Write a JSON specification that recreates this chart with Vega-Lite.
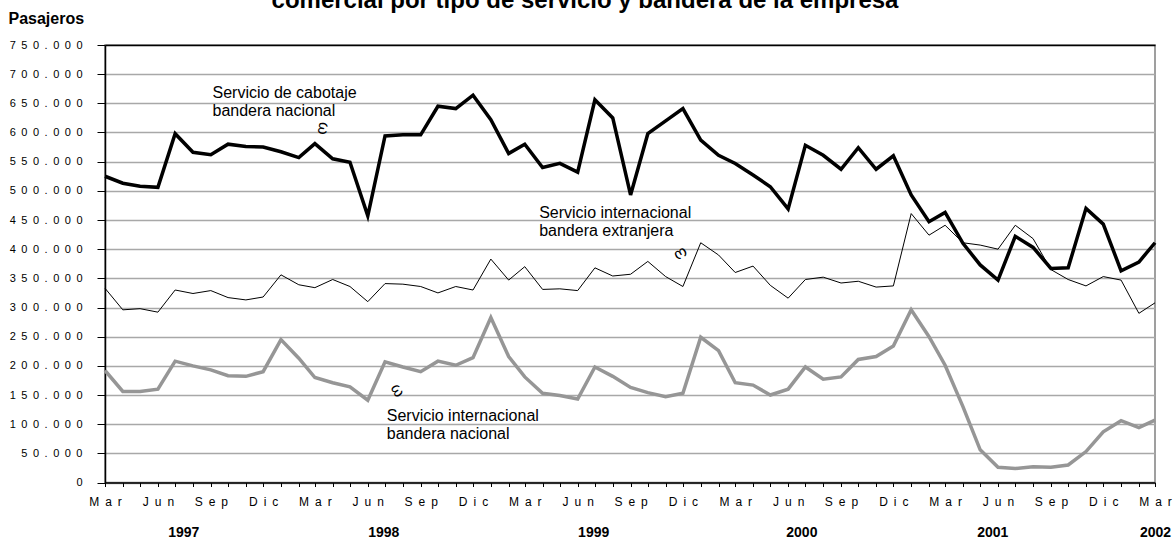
{
  "$schema": "https://vega.github.io/schema/vega-lite/v6.json",
  "width": 1050,
  "height": 437.5,
  "autosize": {"type": "none"},
  "padding": {"left": 105, "top": 45, "right": 19, "bottom": 58.5},
  "background": "white",
  "title": {
    "text": "comercial por tipo de servicio y bandera de la empresa",
    "fontSize": 24,
    "fontWeight": "bold",
    "font": "Liberation Sans",
    "color": "black",
    "anchor": "middle",
    "dx": -45,
    "dy": 22,
    "baseline": "alphabetic",
    "offset": 0
  },
  "config": {
    "font": "Liberation Sans",
    "view": {"stroke": "#808080", "strokeWidth": 1.5},
    "axis": {"labelFont": "Liberation Sans", "titleFont": "Liberation Sans", "labelColor": "black", "titleColor": "black"},
    "axisY": {"tickCount": 15, "labelOverlap": false, "labelFlush": false}
  },
  "resolve": {"axis": {"x": "independent"}},
  "layer": [
    {
      "data": {"values": [
        {"date": "1997-03-01", "cab": 525000, "ext": 333000, "nac": 192000},
        {"date": "1997-04-01", "cab": 513000, "ext": 296000, "nac": 156000},
        {"date": "1997-05-01", "cab": 508000, "ext": 298000, "nac": 156000},
        {"date": "1997-06-01", "cab": 506000, "ext": 292000, "nac": 160000},
        {"date": "1997-07-01", "cab": 598000, "ext": 330000, "nac": 208000},
        {"date": "1997-08-01", "cab": 566000, "ext": 324000, "nac": 200000},
        {"date": "1997-09-01", "cab": 562000, "ext": 329000, "nac": 193000},
        {"date": "1997-10-01", "cab": 580000, "ext": 317000, "nac": 183000},
        {"date": "1997-11-01", "cab": 576000, "ext": 313000, "nac": 182000},
        {"date": "1997-12-01", "cab": 575000, "ext": 318000, "nac": 190000},
        {"date": "1998-01-01", "cab": 567000, "ext": 356000, "nac": 245000},
        {"date": "1998-02-01", "cab": 557000, "ext": 339000, "nac": 213000},
        {"date": "1998-03-01", "cab": 581000, "ext": 334000, "nac": 180000},
        {"date": "1998-04-01", "cab": 555000, "ext": 348000, "nac": 171000},
        {"date": "1998-05-01", "cab": 549000, "ext": 336000, "nac": 164000},
        {"date": "1998-06-01", "cab": 457000, "ext": 310000, "nac": 141000},
        {"date": "1998-07-01", "cab": 594000, "ext": 341000, "nac": 207000},
        {"date": "1998-08-01", "cab": 596000, "ext": 340000, "nac": 198000},
        {"date": "1998-09-01", "cab": 596000, "ext": 336000, "nac": 190000},
        {"date": "1998-10-01", "cab": 645000, "ext": 325000, "nac": 208000},
        {"date": "1998-11-01", "cab": 641000, "ext": 336000, "nac": 201000},
        {"date": "1998-12-01", "cab": 664000, "ext": 330000, "nac": 214000},
        {"date": "1999-01-01", "cab": 622000, "ext": 383000, "nac": 283000},
        {"date": "1999-02-01", "cab": 564000, "ext": 347000, "nac": 216000},
        {"date": "1999-03-01", "cab": 580000, "ext": 370000, "nac": 181000},
        {"date": "1999-04-01", "cab": 540000, "ext": 331000, "nac": 153000},
        {"date": "1999-05-01", "cab": 547000, "ext": 332000, "nac": 149000},
        {"date": "1999-06-01", "cab": 532000, "ext": 329000, "nac": 143000},
        {"date": "1999-07-01", "cab": 656000, "ext": 368000, "nac": 198000},
        {"date": "1999-08-01", "cab": 625000, "ext": 354000, "nac": 182000},
        {"date": "1999-09-01", "cab": 493000, "ext": 357000, "nac": 163000},
        {"date": "1999-10-01", "cab": 598000, "ext": 379000, "nac": 154000},
        {"date": "1999-11-01", "cab": 620000, "ext": 353000, "nac": 147000},
        {"date": "1999-12-01", "cab": 641000, "ext": 336000, "nac": 153000},
        {"date": "2000-01-01", "cab": 587000, "ext": 411000, "nac": 249000},
        {"date": "2000-02-01", "cab": 561000, "ext": 390000, "nac": 226000},
        {"date": "2000-03-01", "cab": 547000, "ext": 360000, "nac": 171000},
        {"date": "2000-04-01", "cab": 527000, "ext": 371000, "nac": 167000},
        {"date": "2000-05-01", "cab": 507000, "ext": 338000, "nac": 150000},
        {"date": "2000-06-01", "cab": 469000, "ext": 316000, "nac": 160000},
        {"date": "2000-07-01", "cab": 578000, "ext": 348000, "nac": 198000},
        {"date": "2000-08-01", "cab": 561000, "ext": 352000, "nac": 177000},
        {"date": "2000-09-01", "cab": 537000, "ext": 342000, "nac": 181000},
        {"date": "2000-10-01", "cab": 574000, "ext": 345000, "nac": 211000},
        {"date": "2000-11-01", "cab": 537000, "ext": 335000, "nac": 216000},
        {"date": "2000-12-01", "cab": 560000, "ext": 337000, "nac": 234000},
        {"date": "2001-01-01", "cab": 493000, "ext": 461000, "nac": 296000},
        {"date": "2001-02-01", "cab": 447000, "ext": 424000, "nac": 250000},
        {"date": "2001-03-01", "cab": 463000, "ext": 441000, "nac": 201000},
        {"date": "2001-04-01", "cab": 410000, "ext": 411000, "nac": 130000},
        {"date": "2001-05-01", "cab": 373000, "ext": 407000, "nac": 56000},
        {"date": "2001-06-01", "cab": 347000, "ext": 400000, "nac": 26000},
        {"date": "2001-07-01", "cab": 422000, "ext": 441000, "nac": 24000},
        {"date": "2001-08-01", "cab": 403000, "ext": 418000, "nac": 27000},
        {"date": "2001-09-01", "cab": 367000, "ext": 365000, "nac": 26000},
        {"date": "2001-10-01", "cab": 368000, "ext": 348000, "nac": 30000},
        {"date": "2001-11-01", "cab": 470000, "ext": 337000, "nac": 53000},
        {"date": "2001-12-01", "cab": 443000, "ext": 353000, "nac": 87000},
        {"date": "2002-01-01", "cab": 363000, "ext": 347000, "nac": 106000},
        {"date": "2002-02-01", "cab": 378000, "ext": 290000, "nac": 94000},
        {"date": "2002-03-01", "cab": 411000, "ext": 308000, "nac": 107000}
      ]},
      "encoding": {
        "x": {
          "field": "date", "type": "temporal",
          "scale": {"type": "utc", "domain": [{"year": 1997, "month": 3, "date": 1, "utc": true}, {"year": 2002, "month": 3, "date": 1, "utc": true}]},
          "axis": {
            "orient": "bottom", "title": null, "grid": false,
            "domainColor": "black", "domainWidth": 1.5,
            "tickColor": "black", "tickSize": 4, "tickWidth": 1,
            "tickCount": {"interval": "month", "step": 1},
            "labelExpr": "utcmonth(datum.value) == 2 ? 'M\u2002a\u2002r' : utcmonth(datum.value) == 5 ? 'J\u2002u\u2002n' : utcmonth(datum.value) == 8 ? 'S\u2002e\u2002p' : utcmonth(datum.value) == 11 ? 'D\u2002i\u2002c' : ''",
            "labelOverlap": false, "labelFlush": false, "labelBound": false,
            "labelAngle": 0, "labelPadding": 9.5, "labelFontSize": 12
          }
        }
      },
      "layer": [
        {
          "mark": {"type": "line", "color": "#969696", "strokeWidth": 3.5},
          "encoding": {
            "y": {
              "field": "nac", "type": "quantitative", "title": "Pasajeros",
              "scale": {"domain": [0, 750000], "nice": false},
              "axis": {
                "tickCount": 15,
                "labelExpr": "join(split(replace(format(datum.value, ','), ',', '.'), ''), '\u2002')",
                "labelOverlap": false, "labelFlush": false,
                "labelFontSize": 11, "labelPadding": 15,
                "domainColor": "black", "domainWidth": 1.5,
                "tickColor": "black", "tickSize": 8, "tickWidth": 1,
                "grid": true,
                "gridColor": {"condition": {"test": "datum.value === 750000", "value": "black"}, "value": "#a8a8a8"},
                "gridWidth": 1.3,
                "titleAngle": 0, "titleAlign": "left", "titleBaseline": "alphabetic",
                "titleX": -97, "titleY": -22, "titleFontSize": 16, "titleFontWeight": "bold"
              }
            }
          }
        },
        {
          "mark": {"type": "line", "color": "black", "strokeWidth": 1},
          "encoding": {"y": {"field": "ext", "type": "quantitative", "title": "Pasajeros", "scale": {"domain": [0, 750000], "nice": false}}}
        },
        {
          "mark": {"type": "line", "color": "black", "strokeWidth": 3.5},
          "encoding": {"y": {"field": "cab", "type": "quantitative", "title": "Pasajeros", "scale": {"domain": [0, 750000], "nice": false}}}
        }
      ]
    },
    {
      "data": {"values": [
        {"kind": "note", "date": "1997-09-04", "v": 660000, "label": ["Servicio de cabotaje", "bandera nacional"]},
        {"kind": "note", "date": "1999-03-26", "v": 454000, "label": ["Servicio internacional", "bandera extranjera"]},
        {"kind": "note", "date": "1998-07-04", "v": 106000, "label": ["Servicio internacional", "bandera nacional"]},
        {"kind": "s1", "date": "1998-03-16", "v": 607000, "label": "ω"},
        {"kind": "s2", "date": "1999-11-28", "v": 391000, "label": "ω"},
        {"kind": "s3", "date": "1998-07-23", "v": 158000, "label": "ω"}
      ]},
      "encoding": {
        "x": {
          "field": "date", "type": "temporal",
          "scale": {"type": "utc", "domain": [{"year": 1997, "month": 3, "date": 1, "utc": true}, {"year": 2002, "month": 3, "date": 1, "utc": true}]},
          "axis": {
            "orient": "bottom", "title": null, "grid": false, "domain": false, "ticks": false,
            "values": [
              {"year": 1997, "month": 7, "date": 15, "utc": true},
              {"year": 1998, "month": 6, "date": 28, "utc": true},
              {"year": 1999, "month": 6, "date": 28, "utc": true},
              {"year": 2000, "month": 6, "date": 24, "utc": true},
              {"year": 2001, "month": 5, "date": 22, "utc": true},
              {"year": 2002, "month": 3, "date": 1, "utc": true}
            ],
            "labelExpr": "utcFormat(datum.value, '%Y')",
            "labelOverlap": false, "labelFlush": false, "labelBound": false,
            "labelAngle": 0, "labelPadding": 42.5, "labelFontSize": 14, "labelFontWeight": "bold"
          }
        },
        "y": {
          "field": "v", "type": "quantitative", "title": "Pasajeros",
          "scale": {"domain": [0, 750000], "nice": false},
          "axis": {
            "tickCount": 15,
            "labelExpr": "join(split(replace(format(datum.value, ','), ',', '.'), ''), '\u2002')",
            "labelOverlap": false, "labelFlush": false,
            "labelFontSize": 11, "labelPadding": 15,
            "domainColor": "black", "domainWidth": 1.5,
            "tickColor": "black", "tickSize": 8, "tickWidth": 1,
            "grid": true,
            "gridColor": {"condition": {"test": "datum.value === 750000", "value": "black"}, "value": "#a8a8a8"},
            "gridWidth": 1.3,
            "titleAngle": 0, "titleAlign": "left", "titleBaseline": "alphabetic",
            "titleX": -97, "titleY": -22, "titleFontSize": 16, "titleFontWeight": "bold"
          }
        },
        "text": {"field": "label"}
      },
      "layer": [
        {
          "transform": [{"filter": "datum.kind === 'note'"}],
          "mark": {"type": "text", "align": "left", "baseline": "alphabetic", "fontSize": 16, "lineHeight": 18.4, "color": "black"}
        },
        {
          "transform": [{"filter": "datum.kind === 's1'"}],
          "mark": {"type": "text", "align": "center", "baseline": "middle", "fontSize": 16, "angle": 100, "color": "black"}
        },
        {
          "transform": [{"filter": "datum.kind === 's2'"}],
          "mark": {"type": "text", "align": "center", "baseline": "middle", "fontSize": 16, "angle": 150, "color": "black"}
        },
        {
          "transform": [{"filter": "datum.kind === 's3'"}],
          "mark": {"type": "text", "align": "center", "baseline": "middle", "fontSize": 16, "angle": 60, "color": "black"}
        }
      ]
    }
  ]
}
